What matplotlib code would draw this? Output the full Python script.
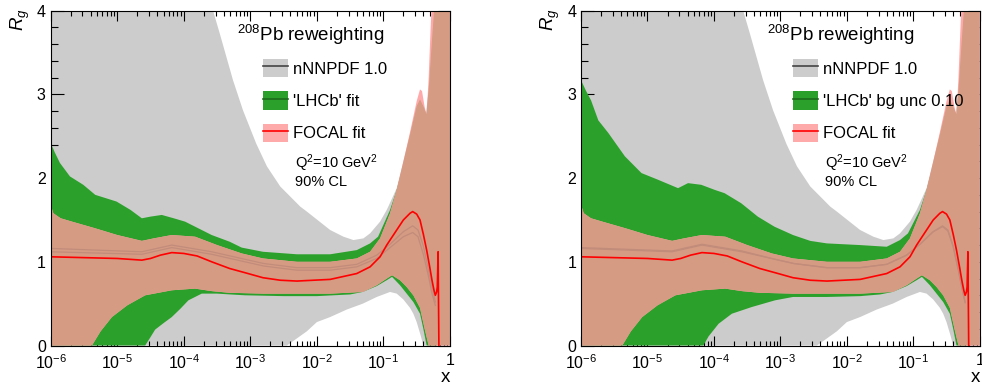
import numpy as np
import matplotlib
matplotlib.use('Agg')
import matplotlib.pyplot as plt
from matplotlib.patches import Patch
from matplotlib.lines import Line2D
from matplotlib.ticker import FixedLocator, MultipleLocator, NullFormatter

plt.rcParams['font.family'] = ['Liberation Sans', 'DejaVu Sans']
plt.rcParams['mathtext.fontset'] = 'custom'
plt.rcParams['mathtext.rm'] = 'Liberation Sans'
plt.rcParams['mathtext.it'] = 'Liberation Sans:italic'
plt.rcParams['mathtext.bf'] = 'Liberation Sans:bold'

# ---- data, x given as log10(x) ----
# nNNPDF 1.0 band (same in both panels)
grey_up_lx = [-6.0, -3.62, -3.56, -3.46, -3.36, -3.26, -3.11, -2.91, -2.75, -2.55, -2.40, -2.25,
              -2.15, -1.80, -1.60, -1.45, -1.30, -1.20, -1.05, -0.95, -0.88, -0.80, -0.70, -0.60,
              -0.50, -0.45, -0.40, -0.36, -0.32, -0.27, -0.23, 0.0]
grey_up = [4.5, 4.2, 4.0, 3.73, 3.45, 3.17, 2.81, 2.41, 2.14, 1.90, 1.78, 1.66,
           1.60, 1.38, 1.30, 1.26, 1.28, 1.34, 1.48, 1.62, 1.74, 1.88, 2.20, 2.52,
           2.86, 2.94, 2.86, 2.78, 3.05, 3.65, 4.1, 4.5]
grey_lo_lx = [-6.0, -2.45, -2.15, -2.0, -1.80, -1.55, -1.31, -1.10, -0.90, -0.80, -0.70, -0.60,
              -0.55, -0.50, -0.44, -0.40, 0.0]
grey_lo = [0.0, 0.0, 0.17, 0.28, 0.34, 0.43, 0.50, 0.58, 0.64, 0.62, 0.55, 0.45,
           0.38, 0.28, 0.12, 0.0, 0.0]
grey_mid_lx = [-6.0, -4.63, -4.18, -3.58, -3.08, -2.80, -2.30, -1.80, -1.40, -1.10, -0.90, -0.70,
               -0.56, -0.48, -0.40, -0.32, -0.27, -0.22]
grey_mid = [1.16, 1.12, 1.20, 1.12, 1.03, 0.98, 0.93, 0.93, 0.97, 1.08, 1.21, 1.36,
            1.43, 1.38, 1.19, 0.90, 0.70, 0.52]

# 'LHCb' fit (left panel)
lhcb_up_lx = [-6.0, -5.94, -5.86, -5.71, -5.51, -5.33, -5.01, -4.80, -4.63, -4.50, -4.33, -4.15,
              -3.98, -3.58, -3.31, -3.13, -2.81, -2.30, -1.80, -1.40, -1.20, -1.08, -0.90, -0.80,
              -0.70, -0.60, -0.45, -0.30, -0.20]
lhcb_up = [2.42, 2.31, 2.18, 2.02, 1.92, 1.80, 1.72, 1.62, 1.52, 1.54, 1.56, 1.52,
           1.48, 1.32, 1.24, 1.17, 1.12, 1.09, 1.09, 1.14, 1.22, 1.30, 1.62, 1.86,
           2.16, 2.48, 2.70, 2.70, 2.70]
lhcb_lo_lx = [-6.0, -4.58, -4.50, -4.43, -4.30, -4.18, -4.05, -3.93, -3.73, -3.50, -3.30, -3.08,
              -2.50, -2.00, -1.50, -1.31, -1.10, -0.95, -0.87, -0.75, -0.65, -0.55, -0.45, -0.40,
              -0.35, -0.20]
lhcb_lo = [0.0, 0.0, 0.10, 0.19, 0.27, 0.34, 0.44, 0.54, 0.62, 0.62, 0.61, 0.60,
           0.59, 0.59, 0.61, 0.64, 0.71, 0.78, 0.82, 0.72, 0.62, 0.52, 0.38, 0.20,
           0.0, 0.0]
lhcb_mid_lx = [-6.0, -4.63, -4.18, -3.58, -3.08, -2.80, -2.30, -1.80, -1.40, -1.10, -0.90, -0.70,
               -0.56, -0.48, -0.40, -0.32, -0.27, -0.22]
lhcb_mid = [1.12, 1.09, 1.17, 1.09, 1.00, 0.95, 0.90, 0.90, 0.94, 1.04, 1.17, 1.30,
            1.35, 1.30, 1.09, 0.82, 0.62, 0.48]

# 'LHCb' bg unc 0.10 (right panel)
bgunc_up_lx = [-6.0, -5.93, -5.85, -5.74, -5.59, -5.34, -5.09, -4.84, -4.54, -4.39, -4.19, -3.99,
               -3.84, -3.59, -3.34, -3.09, -2.81, -2.55, -2.30, -1.80, -1.40, -1.20, -1.08, -0.90,
               -0.80, -0.70, -0.60, -0.45, -0.30, -0.20]
bgunc_up = [3.17, 3.05, 2.93, 2.69, 2.54, 2.26, 2.06, 1.98, 1.88, 1.94, 1.92, 1.86,
            1.82, 1.70, 1.54, 1.42, 1.32, 1.25, 1.22, 1.20, 1.18, 1.26, 1.34, 1.62,
            1.86, 2.16, 2.48, 2.70, 2.70, 2.70]
bgunc_lo_lx = [-6.0, -4.16, -4.08, -3.93, -3.73, -3.43, -3.08, -2.81, -2.30, -1.80, -1.50, -1.31,
               -1.10, -0.95, -0.87, -0.75, -0.65, -0.55, -0.45, -0.40, -0.35, -0.20]
bgunc_lo = [0.0, 0.0, 0.11, 0.26, 0.38, 0.46, 0.54, 0.58, 0.58, 0.59, 0.61, 0.64,
            0.71, 0.78, 0.82, 0.72, 0.62, 0.52, 0.38, 0.20, 0.0, 0.0]
bgunc_mid = [1.17, 1.13, 1.21, 1.13, 1.03, 0.98, 0.93, 0.93, 0.97, 1.08, 1.21, 1.36,
             1.42, 1.37, 1.18, 0.89, 0.69, 0.51]

# FOCAL fit (same in both panels)
focal_up_lx = [-6.0, -5.96, -5.85, -5.68, -5.33, -5.00, -4.63, -4.45, -4.18, -3.83, -3.50, -3.13,
               -2.81, -2.30, -1.80, -1.40, -1.20, -1.05, -0.90, -0.80, -0.70, -0.60, -0.50, -0.45,
               -0.42, -0.38, -0.35, -0.32, -0.27, 0.0]
focal_up = [1.68, 1.58, 1.52, 1.48, 1.40, 1.32, 1.25, 1.28, 1.32, 1.30, 1.20, 1.10,
            1.04, 1.00, 1.00, 1.04, 1.12, 1.28, 1.58, 1.86, 2.20, 2.55, 2.92, 3.06,
            3.04, 2.85, 2.76, 3.20, 4.2, 4.5]
focal_lo_lx = [-6.0, -5.38, -5.25, -5.08, -4.85, -4.58, -4.18, -3.83, -3.58, -3.31, -2.80, -2.30,
               -1.80, -1.31, -1.10, -0.95, -0.87, -0.75, -0.65, -0.55, -0.45, -0.38, -0.32, 0.0]
focal_lo = [0.0, 0.0, 0.17, 0.34, 0.48, 0.60, 0.66, 0.68, 0.65, 0.63, 0.62, 0.62,
            0.62, 0.64, 0.72, 0.80, 0.84, 0.78, 0.70, 0.60, 0.45, 0.20, 0.0, 0.0]
focal_mid_lx = [-6.0, -5.5, -5.0, -4.63, -4.50, -4.35, -4.18, -4.00, -3.80, -3.58, -3.31, -3.08,
                -2.81, -2.55, -2.30, -1.80, -1.40, -1.20, -1.05, -0.95, -0.80, -0.70, -0.60, -0.56,
                -0.50, -0.45, -0.40, -0.35, -0.30, -0.27, -0.24, -0.22, -0.20, -0.19, -0.178, -0.165]
focal_mid = [1.06, 1.05, 1.04, 1.02, 1.04, 1.08, 1.11, 1.10, 1.07, 1.00, 0.92, 0.87,
             0.81, 0.78, 0.77, 0.79, 0.86, 0.94, 1.06, 1.20, 1.38, 1.50, 1.58, 1.60,
             1.57, 1.50, 1.33, 1.14, 0.92, 0.78, 0.66, 0.60, 0.64, 0.70, 1.12, -0.1]

xticks_lx = [-6, -5, -4, -3, -2, -1, 0]
xtick_labels = ['$10^{-6}$', '$10^{-5}$', '$10^{-4}$', '$10^{-3}$', '$10^{-2}$', '$10^{-1}$', '1']

GREY = '#cccccc'
GREEN = '#2ba12c'
PINK = '#ffaaaa'
BROWN = '#d59b83'
FAINT = '#c28c7b'


def lin(lx):
    return np.power(10.0, np.asarray(lx, dtype=float))


def band(ax, up_lx, up, lo_lx, lo, color, zorder):
    xs = np.concatenate([lin(up_lx), lin(lo_lx)[::-1]])
    ys = np.concatenate([up, lo[::-1]])
    return ax.fill(xs, ys, color=color, lw=0, zorder=zorder)[0]


def draw_panel(ax, g_up_lx, g_up, g_lo_lx, g_lo, g_mid, g_label):
    ax.set_xscale('log')
    grey_poly = band(ax, grey_up_lx, grey_up, grey_lo_lx, grey_lo, GREY, 1)
    band(ax, g_up_lx, g_up, g_lo_lx, g_lo, GREEN, 2)
    # FOCAL band: light pink where it sticks out of the grey band, brownish over it
    band(ax, focal_up_lx, focal_up, focal_lo_lx, focal_lo, PINK, 3)
    brown = band(ax, focal_up_lx, focal_up, focal_lo_lx, focal_lo, BROWN, 4)
    brown.set_clip_path(grey_poly)
    ax.plot(lin(grey_mid_lx), grey_mid, color=FAINT, lw=0.9, zorder=5)
    ax.plot(lin(lhcb_mid_lx), g_mid, color=FAINT, lw=0.9, zorder=5)
    ax.plot(lin(focal_mid_lx), focal_mid, color='red', lw=1.2, zorder=6)

    ax.set_xlim(1e-6, 1)
    ax.set_ylim(0, 4)
    ax.xaxis.set_major_locator(FixedLocator(lin(xticks_lx)))
    ax.set_xticklabels(xtick_labels)
    minors = [m * 10.0 ** d for d in range(-6, 0) for m in range(2, 10)]
    ax.xaxis.set_minor_locator(FixedLocator(minors))
    ax.xaxis.set_minor_formatter(NullFormatter())
    ax.yaxis.set_major_locator(MultipleLocator(1))
    ax.yaxis.set_minor_locator(MultipleLocator(0.2))
    ax.tick_params(which='both', direction='in', top=True, right=True, labelsize=11.5, width=0.8)
    ax.tick_params(axis='y', which='major', length=9, pad=3.5)
    ax.tick_params(axis='y', which='minor', length=4.8)
    ax.tick_params(axis='x', which='major', length=7, pad=5.5)
    ax.tick_params(axis='x', which='minor', length=3.3)
    for s in ax.spines.values():
        s.set_linewidth(0.8)
        s.set_zorder(10)

    ax.text(1.0, -0.095, 'x', transform=ax.transAxes, ha='right', va='center', fontsize=13.5)
    ax.text(-0.077, 0.972, '$R_g$', transform=ax.transAxes, ha='center', va='center',
            rotation=90, fontsize=13.5)
    ax.text(0.467, 0.927, '$^{208}$Pb reweighting', transform=ax.transAxes,
            ha='left', va='center', fontsize=13.5)
    ax.text(0.612, 0.545, 'Q$^{2}$=10 GeV$^{2}$', transform=ax.transAxes,
            ha='left', va='center', fontsize=10.5)
    ax.text(0.612, 0.488, '90% CL', transform=ax.transAxes,
            ha='left', va='center', fontsize=10.5)

    handles = [
        (Patch(color=GREY, lw=0), Line2D([], [], color='#444444', lw=1.2)),
        (Patch(color=GREEN, lw=0), Line2D([], [], color='#1d6a1d', lw=1.2)),
        (Patch(color=PINK, lw=0), Line2D([], [], color='red', lw=1.2)),
    ]
    ax.legend(handles, ['nNNPDF 1.0', g_label, 'FOCAL fit'], loc='upper left',
              bbox_to_anchor=(0.532, 0.856), frameon=False, fontsize=12,
              handlelength=1.5, handleheight=1.32, labelspacing=0.84, handletextpad=0.3,
              borderpad=0, borderaxespad=0)


fig = plt.figure(figsize=(9.82, 3.87), dpi=100)
ax1 = fig.add_axes([0.0516, 0.1072, 0.4066, 0.8651])
ax2 = fig.add_axes([0.5917, 0.1072, 0.4060, 0.8651])

draw_panel(ax1, lhcb_up_lx, lhcb_up, lhcb_lo_lx, lhcb_lo, lhcb_mid, "'LHCb' fit")
draw_panel(ax2, bgunc_up_lx, bgunc_up, bgunc_lo_lx, bgunc_lo, bgunc_mid, "'LHCb' bg unc 0.10")

fig.savefig('out.png', dpi=100)
